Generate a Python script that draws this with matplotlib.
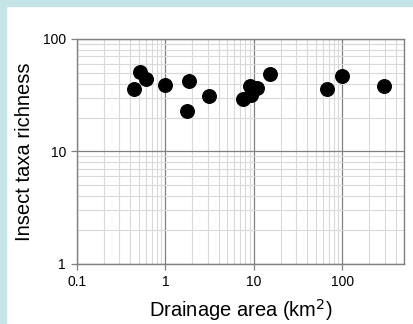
import matplotlib
matplotlib.use("Agg")
import matplotlib.pyplot as plt
from matplotlib.patches import Rectangle
from matplotlib import ticker

# drainage area (km2) vs insect taxa richness
area = [0.44, 0.52, 0.605, 0.98, 1.83, 1.76, 3.12, 7.55, 9.3, 9.1, 10.9, 15.1, 67.6, 98, 296]
richness = [35.8, 51, 43.7, 38.8, 41.9, 23, 30.8, 29.5, 32, 38, 36.7, 48.7, 36, 46.7, 37.8]

x_ticks = [0.1, 1, 10, 100]
x_labels = ['0.1', '1', '10', '100']
y_ticks = [1, 10, 100]
y_labels = ['1', '10', '100']

plt.rcParams['font.family'] = ['Liberation Sans', 'DejaVu Sans']

W, H = 413, 324
fig = plt.figure(figsize=(W / 100, H / 100), dpi=100)
fig.patch.set_facecolor('white')

# light blue frame strips on the left and top
blue = '#c4e4e8'
fig.patches.append(Rectangle((0, 0), 6 / W, 1, transform=fig.transFigure, color=blue, zorder=0))
fig.patches.append(Rectangle((0, 1 - 6 / H), 1, 6 / H, transform=fig.transFigure, color=blue, zorder=0))

ax = fig.add_axes([77 / W, 1 - 263.7 / H, (404.3 - 77) / W, (263.7 - 39) / H])
ax.set_xscale('log')
ax.set_yscale('log')
ax.set_xlim(0.1, 500)
ax.set_ylim(1, 100)

ax.grid(which='minor', color='#d9d9d9', linewidth=0.8)
ax.grid(which='major', color='#808080', linewidth=0.9)
ax.set_axisbelow(True)

ax.scatter(area, richness, s=95, color='black', zorder=3)

ax.xaxis.set_major_locator(ticker.FixedLocator(x_ticks))
ax.xaxis.set_major_formatter(ticker.FixedFormatter(x_labels))
ax.yaxis.set_major_locator(ticker.FixedLocator(y_ticks))
ax.yaxis.set_major_formatter(ticker.FixedFormatter(y_labels))
ax.xaxis.set_minor_locator(ticker.LogLocator(base=10, subs=range(2, 10), numticks=20))
ax.yaxis.set_minor_locator(ticker.LogLocator(base=10, subs=range(2, 10), numticks=20))
ax.xaxis.set_minor_formatter(ticker.NullFormatter())
ax.yaxis.set_minor_formatter(ticker.NullFormatter())

ax.tick_params(which='minor', length=0)
ax.tick_params(which='major', length=4, width=0.9, color='#808080', labelsize=10, pad=4)
for s in ax.spines.values():
    s.set_color('#808080')
    s.set_linewidth(1.0)

ax.set_ylabel('Insect taxa richness', fontsize=14.5, labelpad=6)
ax.set_xlabel('Drainage area (km$^2$)', fontsize=14.5, labelpad=6)

fig.savefig('out.png', dpi=100)
